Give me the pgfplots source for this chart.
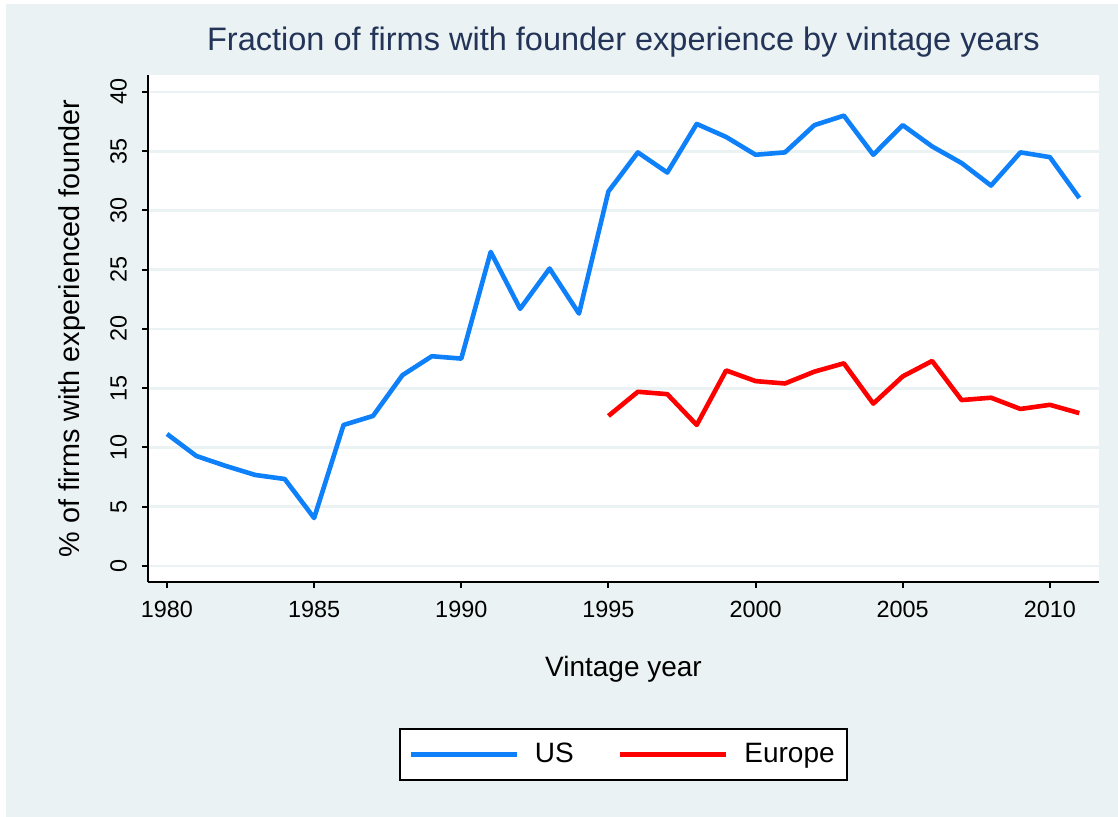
\documentclass[border=0pt]{standalone}
\usepackage{fontspec}
\setmainfont{Liberation Sans}
\usepackage{pgfplots}
\pgfplotsset{compat=1.18}
\definecolor{bgc}{RGB}{234,242,243}
\definecolor{gridc}{RGB}{234,242,243}
\definecolor{usblue}{RGB}{13,128,250}
\definecolor{eured}{RGB}{255,0,0}
\definecolor{titlec}{RGB}{35,52,88}
\begin{document}
\begin{tikzpicture}
\fill[white] (-74pt,-117.5pt) rectangle (485pt,291pt);
\fill[bgc] (-71pt,-117.5pt) rectangle (485pt,289pt);
\begin{axis}[
  at={(0,0)}, anchor=south west,
  scale only axis, width=475.5pt, height=253.5pt,
  xmin=1979.355, xmax=2011.67, ymin=-1.35, ymax=41.43,
  axis x line*=bottom, axis y line*=left,
  axis line style={-, black, line width=1pt},
  axis background/.style={fill=white},
  xtick={1980,1985,...,2010}, ytick={0,5,...,40},
  tick align=outside, major tick length=3pt,
  tick style={black, line width=1pt},
  ymajorgrids, grid style={gridc, line width=1.4pt},
  /pgf/number format/assume math mode=true,
  xticklabel={\pgfmathprintnumber[1000 sep={}]{\tick}},
  ticklabel style={font=\fontsize{11.7}{13}\selectfont},
  yticklabel style={rotate=90, anchor=south},
  yticklabel shift=4pt,
  xticklabel shift=3pt,
  title={Fraction of firms with founder experience by vintage years},
  title style={at={(axis description cs:0.5,1.0256)}, anchor=base, text=titlec, font=\fontsize{16.25}{18}\selectfont},
  xlabel={Vintage year},
  xlabel style={at={(axis description cs:0.5,-0.187)}, anchor=base, font=\fontsize{14}{16}\selectfont},
  ylabel={\% of firms with experienced founder},
  ylabel style={at={(axis description cs:-0.0715,0.5)}, anchor=base, rotate=0, font=\fontsize{14.4}{16}\selectfont},
  legend style={at={(axis description cs:0.5,-0.340)}, anchor=center, legend columns=2, draw=black, line width=1pt, fill=white, font=\fontsize{14}{16}\selectfont, inner xsep=4pt, inner ysep=5pt,
    /tikz/every odd column/.append style={column sep=6pt},
    /tikz/every even column/.append style={column sep=20pt}},
  legend image code/.code={\draw[#1] (0pt,0pt) -- (53pt,0pt);},
  clip=false,
]
\addplot[usblue, line width=2.3pt, line join=round] coordinates {
(1980,11.14) (1981,9.28) (1982,8.44) (1983,7.68) (1984,7.34) (1985,4.05)
(1986,11.9) (1987,12.66) (1988,16.1) (1989,17.7) (1990,17.5) (1991,26.5)
(1992,21.7) (1993,25.1) (1994,21.3) (1995,31.6) (1996,34.9) (1997,33.2)
(1998,37.3) (1999,36.2) (2000,34.7) (2001,34.9) (2002,37.2) (2003,38.0)
(2004,34.7) (2005,37.2) (2006,35.4) (2007,34.0) (2008,32.1) (2009,34.9)
(2010,34.5) (2011,31.05)
};
\addlegendentry{US}
\addplot[eured, line width=2.3pt, line join=round] coordinates {
(1995,12.66) (1996,14.7) (1997,14.5) (1998,11.9) (1999,16.5) (2000,15.6)
(2001,15.4) (2002,16.4) (2003,17.1) (2004,13.7) (2005,16.0) (2006,17.3)
(2007,14.0) (2008,14.2) (2009,13.25) (2010,13.6) (2011,12.9)
};
\addlegendentry{Europe}
\end{axis}
\pgfresetboundingbox
\path (-74pt,-117.5pt) rectangle (485pt,291pt);
\end{tikzpicture}
\end{document}
